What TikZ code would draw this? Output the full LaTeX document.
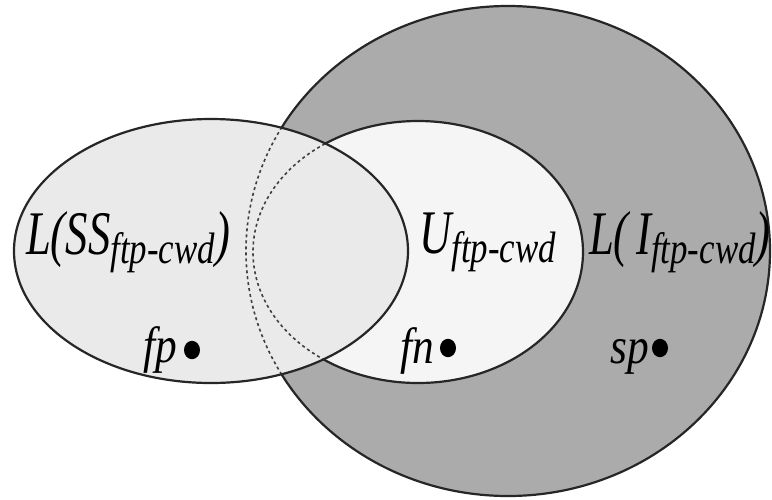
\documentclass[tikz,border=0pt]{standalone}
\usepackage{fontspec}
\setmainfont{Liberation Serif}
\definecolor{biggray}{HTML}{ABABAB}
\definecolor{ssfill}{HTML}{EAEAEA}
\definecolor{ufill}{HTML}{F5F5F5}
\newcommand\subtx[1]{\raisebox{-9pt}{\scalebox{1.1}[1]{\fontsize{44}{44}\selectfont #1}}}
\tikzset{
  lbl/.style={font=\fontsize{62}{62}\selectfont\itshape, xscale=0.72, inner sep=0pt, anchor=base west},
  ptlbl/.style={font=\fontsize{51}{51}\selectfont\itshape, xscale=0.85, inner sep=0pt, anchor=base west},
  dot/.style={circle, fill=black, inner sep=0pt, minimum width=16pt, yscale=1.15},
  solidline/.style={draw=black!85, line width=2.2pt},
  dashline/.style={draw=black!75, line width=1.6pt, dash pattern=on 3pt off 3pt}
}
\begin{document}
\begin{tikzpicture}[x=1pt,y=-1pt]
\useasboundingbox (0,0) rectangle (772,499);
\fill[white] (0,0) rectangle (772,499);
\coordinate (cI) at (508,251);
\coordinate (cU) at (418,252);
\coordinate (cS) at (211,251);
% fills
\fill[biggray] (cI) ellipse [x radius=262pt, y radius=245pt];
\fill[ufill] (cU) ellipse [x radius=165pt, y radius=131pt];
\draw[solidline] (cI) ellipse [x radius=262pt, y radius=245pt];
\draw[solidline] (cU) ellipse [x radius=165pt, y radius=131pt];
\fill[ssfill] (cS) ellipse [x radius=197pt, y radius=132pt];
\begin{scope}
  \clip (cS) ellipse [x radius=197pt, y radius=132pt];
  \draw[dashline] (cI) ellipse [x radius=262pt, y radius=245pt];
  \draw[dashline] (cU) ellipse [x radius=165pt, y radius=131pt];
\end{scope}
\draw[solidline] (cS) ellipse [x radius=197pt, y radius=132pt];
% labels
\node[lbl] (lss) at (26,254) {L(SS\subtx{ftp-cwd})};
\node[lbl] (lu) at (419,253) {U\subtx{ftp-cwd}};
\node[lbl] (li) at (589,254) {L(\,I\subtx{ftp-cwd})};
% points
\node[ptlbl] (fp) at (143,362) {fp};
\node[dot] (fpd) at (192,350) {};
\node[ptlbl] (fn) at (400,363) {fn};
\node[dot] (fnd) at (448,348) {};
\node[ptlbl] (sp) at (610,363) {sp};
\node[dot] (spd) at (660,348) {};
\end{tikzpicture}
\end{document}
